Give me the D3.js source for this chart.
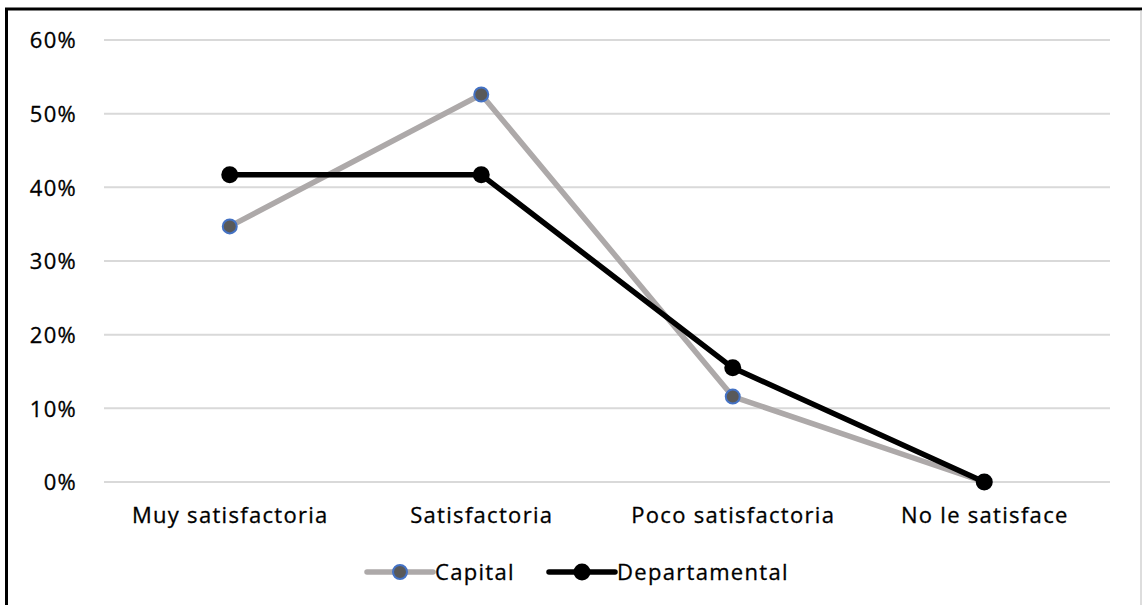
<!DOCTYPE html>
<html>
<head>
<meta charset="utf-8">
<script src="https://cdn.jsdelivr.net/npm/d3@7"></script>
<style>
  html, body { margin: 0; padding: 0; background: #fff; }
  svg { display: block; }
  text { font-family: "Open Sans", "Noto Sans", sans-serif; fill: #000; }
</style>
</head>
<body>
<svg id="chart" width="1142" height="605"></svg>
<script>
// Satisfaction levels and shares by area
const categories = ["Muy satisfactoria", "Satisfactoria", "Poco satisfactoria", "No le satisface"];
const capital = [0.347, 0.526, 0.116, 0.0];
const departamental = [0.417, 0.417, 0.155, 0.0];
const yTicks = [0, 0.1, 0.2, 0.3, 0.4, 0.5, 0.6];
const seriesNames = ["Capital", "Departamental"];

const svg = d3.select("#chart");
const W = 1142, H = 605;
const FS = 22, LS = 1.3;

// Frame: heavy top and left edges, thin right edge
svg.append("rect").attr("x", 0).attr("y", 0).attr("width", W).attr("height", H).attr("fill", "#fff");
svg.append("line").attr("x1", 5).attr("x2", W).attr("y1", 9).attr("y2", 9)
  .attr("stroke", "#000").attr("stroke-width", 3);
svg.append("line").attr("x1", 6.5).attr("x2", 6.5).attr("y1", 8).attr("y2", H)
  .attr("stroke", "#000").attr("stroke-width", 3);
svg.append("line").attr("x1", 1141).attr("x2", 1141).attr("y1", 10).attr("y2", H)
  .attr("stroke", "#bbb").attr("stroke-width", 1);

const x = d3.scalePoint().domain(categories).range([104, 1110]).padding(0.5);
const y = d3.scaleLinear().domain([0, 0.6]).range([482, 40]);

// Gridlines
svg.append("g").selectAll("line").data(yTicks).join("line")
  .attr("x1", 104).attr("x2", 1110)
  .attr("y1", d => y(d)).attr("y2", d => y(d))
  .attr("stroke", "#d9d9d9").attr("stroke-width", 2);

function styleText(sel) {
  sel.attr("font-size", FS).attr("font-family", "'Open Sans', sans-serif")
    .attr("letter-spacing", LS).attr("fill", "#000")
    .attr("stroke", "#000").attr("stroke-width", 0.3);
}

// Y axis labels
const yAxis = d3.axisLeft(y).tickValues(yTicks).tickFormat(d3.format(".0%")).tickSize(0).tickPadding(0);
const gy = svg.append("g").attr("transform", "translate(77,0)").call(yAxis);
gy.select(".domain").remove();
gy.selectAll("text").call(styleText).attr("dy", "0.35em");

// X axis labels
const xAxis = d3.axisBottom(x).tickSize(0).tickPadding(0);
const gx = svg.append("g").attr("transform", "translate(0,523)").call(xAxis);
gx.select(".domain").remove();
gx.selectAll("text").call(styleText).attr("y", 0).attr("dy", 0);

const line = d3.line().x((d, i) => x(categories[i])).y(d => y(d));

// Capital series (gray)
svg.append("path").datum(capital).attr("d", line)
  .attr("fill", "none").attr("stroke", "#ada9a9").attr("stroke-width", 5.5)
  .attr("stroke-linejoin", "round");
// Departamental series (black)
svg.append("path").datum(departamental).attr("d", line)
  .attr("fill", "none").attr("stroke", "#000").attr("stroke-width", 5.5)
  .attr("stroke-linejoin", "round");

svg.append("g").selectAll("circle").data(capital).join("circle")
  .attr("cx", (d, i) => x(categories[i])).attr("cy", d => y(d)).attr("r", 7)
  .attr("fill", "#595959").attr("stroke", "#4472c4").attr("stroke-width", 2);
svg.append("g").selectAll("circle").data(departamental).join("circle")
  .attr("cx", (d, i) => x(categories[i])).attr("cy", d => y(d)).attr("r", 8.5)
  .attr("fill", "#000");

// Legend
const legend = [
  { name: seriesNames[0], x0: 367, color: "#ada9a9", fill: "#595959", stroke: "#4472c4", r: 7 },
  { name: seriesNames[1], x0: 549, color: "#000", fill: "#000", stroke: "none", r: 8.5 }
];
const ly = 572;
const lg = svg.append("g").selectAll("g").data(legend).join("g");
lg.append("line").attr("x1", d => d.x0).attr("x2", d => d.x0 + 66)
  .attr("y1", ly).attr("y2", ly).attr("stroke", d => d.color).attr("stroke-width", 5.5)
  .attr("stroke-linecap", "round");
lg.append("circle").attr("cx", d => d.x0 + 33).attr("cy", ly).attr("r", d => d.r)
  .attr("fill", d => d.fill).attr("stroke", d => d.stroke).attr("stroke-width", 2);
lg.append("text").attr("x", d => d.x0 + 68).attr("y", 580)
  .call(styleText).text(d => d.name);
</script>
</body>
</html>
